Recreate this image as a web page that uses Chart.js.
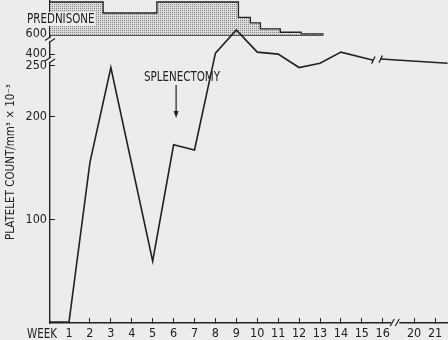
<!DOCTYPE html>
<html>
<head>
<meta charset="utf-8">
<script src="https://cdn.jsdelivr.net/npm/chart.js@4/dist/chart.umd.min.js"></script>
<style>
  body { margin: 0; background: #ececea; }
  canvas { display: block; }
</style>
</head>
<body>
<canvas id="plateletChart" width="448" height="340"></canvas>
<script>
// platelet count (x 10^-3 per mm3) by week; null = break in the line
const weeks = [0.09, 1, 2, 3, 5, 6, 7, 8, 9, 10, 11, 12, 13, 14, 15.55, 15.7, 15.9, 21.6];
const counts = [1, 1, 156, 248, 60, 173, 168, 410, 640, 420, 400, 248, 280, 420, 320, null, 335, 280];

// prednisone dose (mg, estimated from step heights)
const predWeeks = [0.09, 2.63, 5.2, 9.1, 9.67, 10.15, 11.1, 12.1, 13.17];
const predDose = [60, 40, 60, 32, 22, 11, 5, 2, 2];

const weekTicks = [1, 2, 3, 4, 5, 6, 7, 8, 9, 10, 11, 12, 13, 14, 15, 16, 20, 21];
const countTicks = [100, 200, 250, 400, 600];

const ink = '#222222';
const bg = '#ececea';
const family = '"DejaVu Sans Condensed", "DejaVu Sans", sans-serif';
const tickFont = { family: family, size: 12.5 };

// x axis is broken between 16 and 20
function weekToPos(w) {
  return w <= 16 ? w : w - 2.5;
}

// y axis is broken between 250 and 400, and compressed above 400
function countToPos(v) {
  if (v <= 250) return v;
  if (v < 400) return 250 + (v - 250) * 11 / 150;
  return 261 + (v - 400) * 0.098;
}

function makeStipple() {
  const c = document.createElement('canvas');
  c.width = 2;
  c.height = 2;
  const g = c.getContext('2d');
  g.fillStyle = '#dcdcda';
  g.fillRect(0, 0, 2, 2);
  g.fillStyle = '#858585';
  g.fillRect(0, 0, 1, 1);
  return g.createPattern(c, 'repeat');
}

const ctx = document.getElementById('plateletChart').getContext('2d');

const linePoints = weeks.map((w, i) => ({ x: weekToPos(w), y: counts[i] === null ? null : countToPos(counts[i]) }));
const breakIdx = [14, 16];

function breakMark(g, x, y) {
  g.fillStyle = bg;
  g.fillRect(x - 4, y - 2, 8, 4);
  g.strokeStyle = ink;
  g.lineWidth = 1.2;
  g.beginPath();
  g.moveTo(x - 5, y + 1);
  g.lineTo(x + 1, y - 3);
  g.moveTo(x - 1, y + 3);
  g.lineTo(x + 5, y - 1);
  g.stroke();
}

// condensed text: the original lettering is narrower than any installed font
function narrowText(g, text, x, y, align) {
  g.save();
  g.translate(x, y);
  g.scale(0.82, 1);
  g.textAlign = align;
  g.fillText(text, 0, 0);
  g.restore();
}

const decorations = {
  id: 'decorations',
  beforeDraw(chart) {
    const g = chart.ctx;
    g.save();
    g.fillStyle = bg;
    g.fillRect(0, 0, chart.width, chart.height);
    g.restore();
  },
  afterDraw(chart) {
    const g = chart.ctx;
    const xs = chart.scales.x;
    const ys = chart.scales.y;
    g.save();
    // axis breaks
    breakMark(g, xs.left, ys.getPixelForValue(countToPos(322)));
    breakMark(g, xs.left, ys.getPixelForValue(countToPos(545)));
    const bx = xs.getPixelForValue(16.6);
    g.fillStyle = bg;
    g.fillRect(bx - 4, ys.bottom - 2, 8, 4);
    g.strokeStyle = ink;
    g.lineWidth = 1.2;
    g.beginPath();
    g.moveTo(bx - 5, ys.bottom + 3);
    g.lineTo(bx - 1, ys.bottom - 4);
    g.moveTo(bx, ys.bottom + 3);
    g.lineTo(bx + 4, ys.bottom - 4);
    g.stroke();

    g.font = '14px ' + family;
    g.textBaseline = 'middle';
    // prednisone label with a clear box behind it
    g.fillStyle = bg;
    g.fillRect(25, 12, 70, 14);
    g.fillStyle = ink;
    narrowText(g, 'PREDNISONE', 27, 19, 'left');

    // splenectomy marker
    narrowText(g, 'SPLENECTOMY', xs.getPixelForValue(6.4), 77, 'center');
    const ax = xs.getPixelForValue(6.12);
    const top = ys.getPixelForValue(231);
    const tip = ys.getPixelForValue(199);
    g.strokeStyle = ink;
    g.lineWidth = 1.2;
    g.beginPath();
    g.moveTo(ax, top);
    g.lineTo(ax, tip - 5);
    g.stroke();
    g.beginPath();
    g.moveTo(ax, tip);
    g.lineTo(ax - 2.5, tip - 7);
    g.lineTo(ax + 2.5, tip - 7);
    g.closePath();
    g.fill();

    // WEEK label left of the x ticks
    narrowText(g, 'WEEK', 27, xs.bottom - 6, 'left');
    g.restore();
  }
};

new Chart(ctx, {
  type: 'line',
  data: {
    datasets: [
      {
        label: 'Platelet count',
        data: linePoints,
        borderColor: ink,
        borderWidth: 1.6,
        spanGaps: false,
        tension: 0,
        pointRadius: linePoints.map((p, i) => breakIdx.includes(i) ? 4 : 0),
        pointStyle: 'line',
        pointRotation: -65,
        pointBorderColor: ink,
        pointBorderWidth: 1.3,
        yAxisID: 'y',
      },
      {
        label: 'Prednisone',
        data: predWeeks.map((w, i) => ({ x: w, y: predDose[i] })),
        stepped: 'before',
        borderColor: ink,
        borderWidth: 1.3,
        backgroundColor: makeStipple(),
        fill: { value: 0 },
        pointRadius: 0,
        yAxisID: 'yP',
      },
      {
        label: 'Prednisone baseline',
        data: [{ x: predWeeks[0], y: 0 }, { x: predWeeks[predWeeks.length - 1], y: 0 }],
        borderColor: ink,
        borderWidth: 1.3,
        pointRadius: 0,
        yAxisID: 'yP',
      },
    ],
  },
  options: {
    responsive: false,
    devicePixelRatio: 1,
    animation: false,
    layout: { padding: { top: 1, right: 0, left: 0, bottom: 0 } },
    plugins: { legend: { display: false }, tooltip: { enabled: false } },
    scales: {
      x: {
        type: 'linear',
        min: 0.09,
        max: 19.12,
        afterBuildTicks: s => { s.ticks = weekTicks.map(w => ({ value: weekToPos(w) })); },
        afterFit: s => { s.height = 17; s.paddingLeft = 0; s.paddingRight = 0; },
        ticks: {
          callback: (v, i) => weekTicks[i],
          autoSkip: false,
          maxRotation: 0,
          padding: 8,
          color: ink,
          font: tickFont,
        },
        grid: { drawOnChartArea: false, tickLength: -5, color: ink, tickWidth: 1 },
        border: { color: ink, width: 1.4 },
      },
      y: {
        min: 0,
        max: 312.6,
        afterBuildTicks: s => { s.ticks = countTicks.map(c => ({ value: countToPos(c) })); },
        afterFit: s => { s.width = 50; s.paddingTop = 0; s.paddingBottom = 0; },
        ticks: {
          callback: (v, i) => countTicks[i],
          padding: 8,
          color: ink,
          font: tickFont,
        },
        grid: { drawOnChartArea: false, tickLength: -5, color: ink, tickWidth: 1 },
        border: { color: ink, width: 1.4 },
        title: {
          display: true,
          text: 'PLATELET COUNT/mm³ × 10⁻³',
          color: ink,
          font: { family: family, size: 11.5 },
          padding: { top: 4, bottom: 0 },
        },
      },
      yP: {
        display: false,
        min: -523.6,
        max: 61.8,
      },
    },
  },
  plugins: [decorations],
});
</script>
</body>
</html>
